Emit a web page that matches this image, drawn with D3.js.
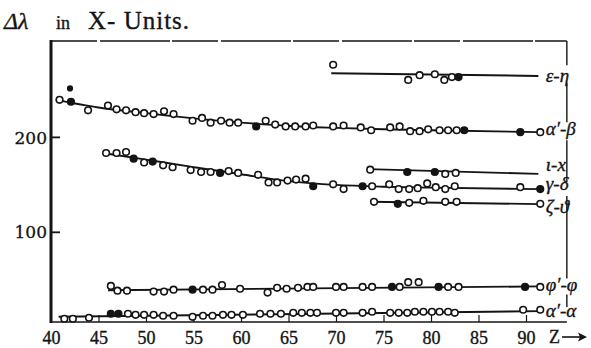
<!DOCTYPE html>
<html><head><meta charset="utf-8">
<script src="https://cdn.jsdelivr.net/npm/d3@7"></script>
<style>
html,body{margin:0;padding:0;background:#fff;}
svg{display:block}
.serif{font-family:"Liberation Serif","DejaVu Serif",serif;stroke:#141414;stroke-width:0.35px;}
.serif-wide{font-family:"DejaVu Serif","Liberation Serif",serif;stroke:#141414;stroke-width:0.3px;}
</style>
</head><body>
<svg id="chart" width="591" height="348"></svg>
<script>
// Doublet separations Δλ (X-units) against atomic number Z
const zTicks = [40, 45, 50, 55, 60, 65, 70, 75, 80, 85, 90];
const valueTicks = [100, 200];
const doubletLabels = ["ε-η", "α′-β", "ι-x", "γ-δ", "ζ-ϑ", "φ′-φ", "α′-α"];

// observed points: [Z, Δλ, filled(1) / open(0) / small dot(2)]
const epsEta = [[69.7,276,0],[77.6,260,0],[78.8,265,0],[80.4,266,0],[81.4,260,0],[82.2,263,0],[82.9,263,1]];
const alphaBeta = [[40.9,239,0],[42.1,237,1],[42.0,251,2],[43.9,228,0],[46.0,233,0],[46.9,229,0],[47.9,228,0],
  [48.9,226,0],[49.8,225,0],[50.8,224,0],[51.9,227,0],[52.9,224,0],[54.9,217,0],[55.9,220,0],[56.8,215,0],
  [57.9,217,0],[58.8,215,0],[59.7,215,0],[61.6,211,1],[62.6,217,0],[63.6,213,0],[64.7,211,0],[65.7,211,0],
  [66.8,211,0],[67.6,212,0],[69.7,211,0],[70.8,212,0],[72.6,210,0],[73.7,207,0],[75.7,210,0],[76.7,211,0],
  [77.8,206,0],[78.8,206,0],[79.7,208,0],[80.9,207,0],[81.8,207,0],[82.7,207,0],[83.5,207,1],[89.4,205,1],[91.5,205,0]];
const iotaX = [[73.6,165.5,0],[77.5,163,1],[80.4,163,1],[81.5,161,0],[82.6,162,0]];
const gammaDelta = [[45.8,183,0],[46.9,183,0],[47.9,184,0],[48.7,177,1],[49.8,173,0],[50.7,174,1],[51.8,170,0],
  [52.8,168,0],[54.7,165,0],[55.8,163,0],[56.8,163,0],[57.8,162,1],[58.7,164,0],[59.7,162,0],[61.8,160,0],
  [62.9,152,0],[63.8,152,0],[64.9,154,0],[65.8,155,0],[66.8,156,0],[67.6,148,1],[69.7,150,0],[70.8,145,0],
  [72.8,148,1],[73.8,148,0],[75.6,150,0],[76.6,145,0],[77.7,145,0],[78.6,146,0],[79.6,151,0],[80.5,147,0],
  [81.5,145,0],[82.5,148,0],[89.4,147,0],[91.5,145,1]];
const zetaTheta = [[74.0,131.6,0],[76.5,129.5,1],[77.7,130.5,0],[79.2,132.6,0],[81.5,131.6,0],[82.7,131.6,0],[91.5,129.5,0]];
const phiPhi = [[46.3,43,0],[47.0,38,0],[48.0,38,0],[50.8,37,0],[51.9,37,0],[52.9,39,0],[54.9,39,1],[56.0,39,0],
  [57.0,39,0],[58.0,44,0],[59.9,40,0],[62.8,36,0],[63.8,41,0],[64.8,40,0],[66.0,41,0],[67.0,42,0],[67.6,42,0],
  [70.0,42,0],[70.8,42,0],[72.8,42,0],[73.8,42,0],[75.9,42,1],[76.7,42,0],[77.6,47,0],[78.7,47,0],[80.8,42,1],
  [81.8,42,0],[82.9,42,0],[89.9,42,1],[91.5,42,0]];
const alphaAlpha = [[41.4,8.4,0],[42.3,8.4,0],[44.0,9.5,0],[46.3,13.7,1],[47.1,13.7,1],[48.1,13.7,0],[48.9,12.6,0],
  [49.8,12.6,0],[50.8,12.6,0],[51.8,11.6,0],[52.9,11.6,0],[54.9,10.5,0],[56.0,11.6,0],[57.0,11.6,0],[58.1,12.6,0],
  [59.0,12.6,0],[60.2,12.6,0],[62.0,13.7,0],[63.1,13.7,0],[64.2,13.7,0],[65.5,14.7,0],[66.4,14.7,0],[67.3,14.7,0],
  [68.0,14.7,0],[70.0,14.7,0],[70.8,14.7,0],[72.8,14.7,0],[73.8,15.8,0],[75.7,14.7,0],[76.6,14.7,0],[77.5,14.7,0],
  [78.3,15.8,0],[79.2,15.8,0],[80.1,15.8,0],[80.9,15.8,0],[81.8,15.8,0],[82.5,14.7,0],[89.7,17.9,0],[91.5,17.9,0]];

// drawn trend curves: [Z, Δλ]
const epsEtaFit = [[69.5,267],[91.3,264.2]];
const alphaBetaFit = [[40.5,239],[45,231],[50,225],[55,219.5],[60,215],[65,211.5],[70,209.5],[75,208],[80,207],[91.3,205]];
const iotaXFit = [[73.4,166],[91.3,161]];
const gammaDeltaFit = [[45.5,183],[50,176],[55,168.2],[60,160.6],[65,153.4],[70,149.4],[75,147.5],[80,146.5],[91.5,145]];
const zetaThetaFit = [[73.6,131.6],[91.5,129.2]];
const phiPhiFit = [[46,38.5],[91.5,42.5]];
const alphaAlphaFit = [[40.8,10.5],[91.5,16.5]];

const series = [
  {pts: epsEta, fit: epsEtaFit, label: doubletLabels[0], dy: 6},
  {pts: alphaBeta, fit: alphaBetaFit, label: doubletLabels[1], dy: 3},
  {pts: iotaX, fit: iotaXFit, label: doubletLabels[2], dy: -3},
  {pts: gammaDelta, fit: gammaDeltaFit, label: doubletLabels[3], dy: 1},
  {pts: zetaTheta, fit: zetaThetaFit, label: doubletLabels[4], dy: 9},
  {pts: phiPhi, fit: phiPhiFit, label: doubletLabels[5], dy: 5},
  {pts: alphaAlpha, fit: alphaAlphaFit, label: doubletLabels[6], dy: 6}
];

const ink = "#141414";
const svg = d3.select("#chart");

const x = d3.scaleLinear().domain([40, 90]).range([51, 526]);
const y = d3.scaleLinear().domain([5, 301]).range([322, 41]);
const zFrame = 94.3;

// title
const title = svg.append("text").attr("class", "serif").attr("x", 4).attr("y", 29).attr("fill", ink);
title.append("tspan").style("font-style", "italic").style("font-size", "24px").text("Δλ");
title.append("tspan").attr("x", 56).style("font-size", "18px").text("in");
title.append("tspan").attr("x", 88).style("font-size", "25px").style("letter-spacing", "1px").text("X- Units.");

// frame
const frame = svg.append("g").attr("stroke", ink).attr("fill", "none");
frame.append("line").attr("x1", x(40)).attr("x2", x(zFrame)).attr("y1", y(301)).attr("y2", y(301))
  .attr("stroke-width", 1.6).attr("stroke-dasharray", "46 3 70 2");
frame.append("line").attr("x1", x(40)).attr("x2", x(40)).attr("y1", y(301) - 1).attr("y2", y(5) + 1)
  .attr("stroke-width", 3);
frame.append("line").attr("x1", x(40)).attr("x2", x(zFrame)).attr("y1", y(5)).attr("y2", y(5))
  .attr("stroke-width", 1.4);

// right border, interrupted at the labels it does not pass through
const gaps = [[y(267) - 8, y(267) + 10], [y(205) - 10, y(205) + 8], [y(145) - 7, y(145) + 7], [y(42.5) - 8, y(42.5) + 8], [y(16.5) - 4, y(5) - 1]];
let yStart = y(301);
gaps.forEach(([g0, g1]) => {
  frame.append("line").attr("x1", x(zFrame)).attr("x2", x(zFrame)).attr("y1", yStart).attr("y2", g0)
    .attr("stroke-width", 1.4);
  yStart = g1;
});

// axes
const yAxis = d3.axisLeft(y).tickValues(valueTicks).tickSize(-9).tickPadding(4);
const gy = svg.append("g").attr("transform", `translate(${x(40)},0)`).call(yAxis);
gy.attr("font-family", null).attr("font-size", null);
gy.select(".domain").remove();
gy.selectAll(".tick line").attr("stroke", ink).attr("stroke-width", 1.8);
gy.selectAll(".tick text").attr("class", "serif-wide").attr("fill", ink)
  .style("font-size", "17px").attr("dy", "0.36em");

const xAxis = d3.axisBottom(x).tickValues(zTicks).tickSize(-7).tickPadding(9);
const gx = svg.append("g").attr("transform", `translate(0,${y(5)})`).call(xAxis);
gx.attr("font-family", null).attr("font-size", null);
gx.select(".domain").remove();
gx.selectAll(".tick line").attr("stroke", ink).attr("stroke-width", 1.2)
  .attr("opacity", d => d === 40 ? 0 : 1);
gx.selectAll(".tick text").attr("class", "serif").attr("fill", ink).style("font-size", "18px");

// Z arrow
svg.append("text").attr("class", "serif").attr("x", 549).attr("y", 343).attr("fill", ink)
  .style("font-size", "18px").text("Z");
svg.append("line").attr("x1", 562).attr("x2", 584).attr("y1", 337).attr("y2", 337)
  .attr("stroke", ink).attr("stroke-width", 1.6);
svg.append("path").attr("d", "M587,337 L578,332.5 L580,337 L578,341.5 Z").attr("fill", ink);

// trend curves and points
const line = d3.line().x(d => x(d[0])).y(d => y(d[1])).curve(d3.curveMonotoneX);
const plot = svg.append("g");
series.forEach(s => {
  plot.append("path").datum(s.fit).attr("d", line).attr("fill", "none")
    .attr("stroke", ink).attr("stroke-width", 1.9);
  plot.selectAll(null).data(s.pts).join("circle")
    .attr("cx", d => x(d[0])).attr("cy", d => y(d[1]))
    .attr("r", d => d[2] === 2 ? 2.3 : 3.3)
    .attr("fill", d => d[2] ? ink : "#fff")
    .attr("stroke", ink).attr("stroke-width", 1.6);
  const last = s.fit[s.fit.length - 1];
  svg.append("text").attr("class", "serif").attr("x", x(zFrame) - 21).attr("y", y(last[1]) + s.dy)
    .attr("fill", ink).style("font-style", "italic").style("font-size", "19px").text(s.label);
});
</script>
</body></html>
